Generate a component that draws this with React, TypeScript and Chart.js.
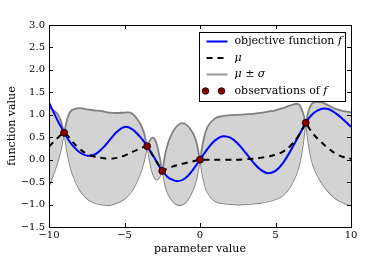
import React, { useEffect, useRef } from "react";
import { Chart, registerables } from "chart.js";

Chart.register(...registerables);

// ---- data ----
const xGrid = [
  -10, -9.5, -9.25, -9.125, -9, -8.875, -8.75, -8.5, -8, -7.5,
  -7, -6.5, -6, -5.5, -5, -4.5, -4, -3.75, -3.625, -3.5,
  -3.375, -3.25, -3.125, -3, -2.875, -2.75, -2.625, -2.5, -2.375, -2.25,
  -2, -1.5, -1, -0.5, -0.25, -0.125, 0, 0.125, 0.25, 0.5,
  1, 1.5, 2, 2.5, 3, 3.5, 4, 4.5, 5, 5.5,
  6, 6.5, 6.75, 6.875, 7, 7.125, 7.25, 7.5, 8, 8.5,
  9, 9.5, 10,
];

const objective = [
  1.27, 0.92, 0.76, 0.68, 0.6, 0.53, 0.46, 0.34, 0.17, 0.09,
  0.11, 0.24, 0.43, 0.62, 0.73, 0.68, 0.52, 0.42, 0.36, 0.3,
  0.235, 0.17, 0.1, 0.03, -0.045, -0.12, -0.19, -0.25, -0.3, -0.35,
  -0.42, -0.48, -0.42, -0.24, -0.12, -0.06, 0, 0.06, 0.12, 0.24,
  0.43, 0.52, 0.49, 0.36, 0.16, -0.05, -0.22, -0.3, -0.25, -0.07,
  0.2, 0.51, 0.67, 0.75, 0.82, 0.88, 0.94, 1.03, 1.13, 1.13,
  1.03, 0.89, 0.73,
];

const mean = [
  0.29, 0.46, 0.54, 0.57, 0.6, 0.57, 0.53, 0.42, 0.25, 0.13,
  0.07, 0.04, 0.02, 0.04, 0.09, 0.17, 0.24, 0.28, 0.29, 0.3,
  0.23, 0.16, 0.09, 0.025, -0.045, -0.115, -0.18, -0.25, -0.23, -0.21,
  -0.175, -0.12, -0.08, -0.04, -0.02, -0.01, 0, 0, 0, 0,
  0, 0, 0, 0, 0.01, 0.02, 0.04, 0.07, 0.11, 0.18,
  0.31, 0.52, 0.66, 0.74, 0.82, 0.76, 0.69, 0.57, 0.4, 0.25,
  0.13, 0.06, 0.02,
];

const sigma = [
  0.88, 0.58, 0.36, 0.19, 0, 0.22, 0.42, 0.68, 0.9, 0.99,
  1.03, 1.04, 1.03, 1.0, 0.96, 0.86, 0.58, 0.36, 0.19, 0,
  0.165, 0.3, 0.4, 0.43, 0.4, 0.3, 0.165, 0, 0.22, 0.42,
  0.65, 0.88, 0.88, 0.65, 0.42, 0.22, 0, 0.24, 0.46, 0.73,
  0.92, 0.97, 0.99, 1.0, 1.0, 1.0, 1.0, 1.0, 0.99, 0.97,
  0.9, 0.72, 0.45, 0.24, 0, 0.24, 0.45, 0.7, 0.88, 0.96,
  1.0, 1.02, 1.04,
];

const obsX = [-9, -3.5, -2.5, 0, 7];
const obsY = [0.6, 0.3, -0.25, 0, 0.82];

const xTicks = [-10, -5, 0, 5, 10];
const yTicks = [-1.5, -1.0, -0.5, 0.0, 0.5, 1.0, 1.5, 2.0, 2.5, 3.0];

const legendRows = ["objective function", "mu", "mu pm sigma", "observations of"];

const FONT = "'DejaVu Serif', 'Liberation Serif', serif";
const fmt = (v: number, d: number) => v.toFixed(d).replace("-", "\u2212");

const framePlugin = {
  id: "frameTicksLegend",
  afterDraw(chart: any) {
    const { ctx, chartArea } = chart;
    const { left, right, top, bottom } = chartArea;
    const xs = chart.scales.x;
    const ys = chart.scales.y;
    ctx.save();
    // inward ticks
    ctx.strokeStyle = "#000";
    ctx.lineWidth = 1;
    ctx.beginPath();
    const tl = 4;
    xTicks.forEach((v) => {
      const px = Math.round(xs.getPixelForValue(v)) + 0.5;
      ctx.moveTo(px, bottom);
      ctx.lineTo(px, bottom - tl);
      ctx.moveTo(px, top);
      ctx.lineTo(px, top + tl);
    });
    yTicks.forEach((v) => {
      const py = Math.round(ys.getPixelForValue(v)) + 0.5;
      ctx.moveTo(left, py);
      ctx.lineTo(left + tl, py);
      ctx.moveTo(right, py);
      ctx.lineTo(right - tl, py);
    });
    ctx.stroke();
    // frame
    ctx.strokeRect(Math.round(left) + 0.5, Math.round(top) + 0.5, Math.round(right - left), Math.round(bottom - top));

    // legend
    const lx = Math.round(right) - 151.5;
    const ly = Math.round(top) + 7.5;
    const lw = 146;
    const lh = 69;
    ctx.fillStyle = "#fff";
    ctx.fillRect(lx, ly, lw, lh);
    ctx.strokeStyle = "#000";
    ctx.lineWidth = 1;
    ctx.strokeRect(lx, ly, lw, lh);

    const rowY = [ly + 9, ly + 25.5, ly + 42, ly + 58.5];
    const sx0 = lx + 7;
    const sx1 = lx + 28;
    const tx = lx + 35;
    // row 1: blue line
    ctx.strokeStyle = "#0000ff";
    ctx.lineWidth = 2;
    ctx.setLineDash([]);
    ctx.beginPath();
    ctx.moveTo(sx0, rowY[0]);
    ctx.lineTo(sx1, rowY[0]);
    ctx.stroke();
    // row 2: dashed
    ctx.strokeStyle = "#000";
    ctx.setLineDash([6, 5]);
    ctx.beginPath();
    ctx.moveTo(sx0, rowY[1]);
    ctx.lineTo(sx1, rowY[1]);
    ctx.stroke();
    ctx.setLineDash([]);
    // row 3: gray
    ctx.strokeStyle = "#999999";
    ctx.beginPath();
    ctx.moveTo(sx0, rowY[2]);
    ctx.lineTo(sx1, rowY[2]);
    ctx.stroke();
    // row 4: markers
    ctx.fillStyle = "#8b0000";
    ctx.strokeStyle = "#000";
    ctx.lineWidth = 0.8;
    [sx0 - 1, sx1 - 6].forEach((mx) => {
      ctx.beginPath();
      ctx.arc(mx, rowY[3], 3.3, 0, Math.PI * 2);
      ctx.fill();
      ctx.stroke();
    });

    ctx.fillStyle = "#000";
    ctx.textBaseline = "middle";
    ctx.textAlign = "left";
    const reg = `11px ${FONT}`;
    const ita = `italic 11px ${FONT}`;
    const drawParts = (parts: [string, string][], x: number, y: number) => {
      let cx = x;
      parts.forEach(([t, f]) => {
        ctx.font = f;
        ctx.fillText(t, cx, y);
        cx += ctx.measureText(t).width;
      });
    };
    drawParts([[legendRows[0] + " ", reg], ["f", ita]], tx, rowY[0]);
    drawParts([["\u03bc", ita]], tx, rowY[1]);
    drawParts([["\u03bc", ita], [" \u00b1 ", reg], ["\u03c3", ita]], tx, rowY[2]);
    drawParts([[legendRows[3] + " ", reg], ["f", ita]], tx, rowY[3]);
    ctx.restore();
  },
};

export default function App() {
  const ref = useRef<HTMLCanvasElement | null>(null);
  useEffect(() => {
    document.body.style.margin = "0";
    if (!ref.current) return;
    const pts = (ys: number[]) => xGrid.map((x, i) => ({ x, y: ys[i] }));
    const upper = mean.map((m, i) => m + sigma[i]);
    const lower = mean.map((m, i) => m - sigma[i]);
    const chart = new Chart(ref.current, {
      type: "line",
      data: {
        datasets: [
          {
            label: "upper",
            data: pts(upper),
            borderColor: "#808080",
            borderWidth: 1.8,
            backgroundColor: "#d3d3d3",
            fill: "+1",
            pointRadius: 0,
            tension: 0.4,
            order: 3,
          },
          {
            label: "lower",
            data: pts(lower),
            borderColor: "#808080",
            borderWidth: 1.8,
            fill: false,
            pointRadius: 0,
            tension: 0.4,
            order: 4,
          },
          {
            label: "objective function f",
            data: pts(objective),
            borderColor: "#0000ff",
            borderWidth: 2,
            fill: false,
            pointRadius: 0,
            tension: 0.4,
            order: 2,
          },
          {
            label: "mu",
            data: pts(mean),
            borderColor: "#000000",
            borderWidth: 2,
            borderDash: [6, 5],
            fill: false,
            pointRadius: 0,
            tension: 0.4,
            order: 1,
          },
          {
            label: "observations of f",
            data: obsX.map((x, i) => ({ x, y: obsY[i] })),
            showLine: false,
            pointRadius: 3.5,
            pointBackgroundColor: "#8b0000",
            pointBorderColor: "#000000",
            pointBorderWidth: 0.8,
            order: 0,
          },
        ],
      },
      options: {
        responsive: false,
        animation: false,
        devicePixelRatio: 1,
        layout: { padding: { top: 25, right: 39, left: 0, bottom: 0 } },
        plugins: { legend: { display: false }, tooltip: { enabled: false } },
        scales: {
          x: {
            type: "linear",
            min: -10,
            max: 10,
            grid: { display: false, drawTicks: false },
            border: { display: false },
            afterBuildTicks: (s: any) => {
              s.ticks = xTicks.map((v) => ({ value: v }));
            },
            afterFit: (s: any) => {
              s.height = 33;
            },
            ticks: {
              padding: 2,
              color: "#000",
              font: { family: FONT, size: 10 },
              maxRotation: 0,
              callback: (v: any) => fmt(Number(v), 0),
            },
            title: {
              display: true,
              text: "parameter value",
              color: "#000",
              font: { family: FONT, size: 11 },
              padding: { top: 0, bottom: 4 },
            },
          },
          y: {
            type: "linear",
            min: -1.5,
            max: 3,
            grid: { display: false, drawTicks: false },
            border: { display: false },
            afterBuildTicks: (s: any) => {
              s.ticks = yTicks.map((v) => ({ value: v }));
            },
            afterFit: (s: any) => {
              s.width = 49;
            },
            ticks: {
              padding: 4,
              color: "#000",
              font: { family: FONT, size: 10 },
              callback: (v: any) => fmt(Number(v), 1),
            },
            title: {
              display: true,
              text: "function value",
              color: "#000",
              font: { family: FONT, size: 11 },
              padding: { top: 6, bottom: 0 },
            },
          },
        },
      },
      plugins: [framePlugin],
    });
    return () => chart.destroy();
  }, []);
  return (
    <div style={{ width: 390, height: 260 }}>
      <canvas ref={ref} width={390} height={260} />
    </div>
  );
}
